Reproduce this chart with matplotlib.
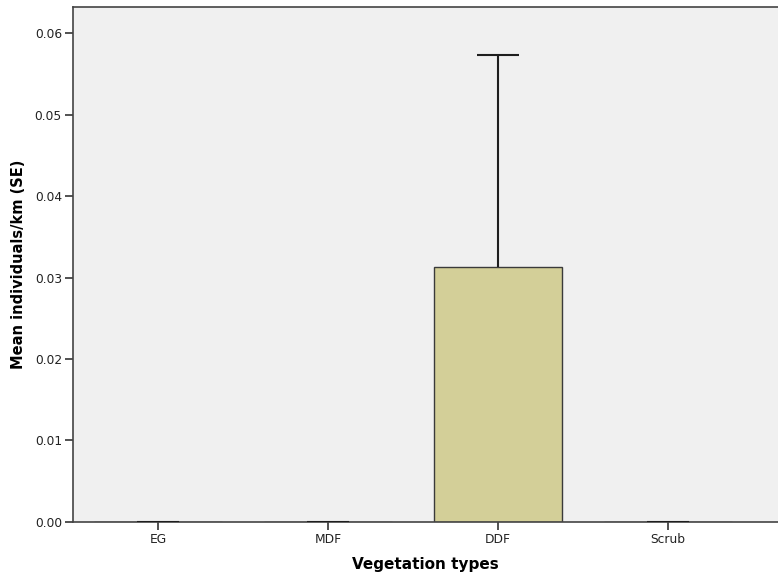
import matplotlib
matplotlib.use("Agg")
import matplotlib.pyplot as plt
import numpy as np

# Mean individuals per km by vegetation type, with standard errors
categories = ["EG", "MDF", "DDF", "Scrub"]
means = [0.0, 0.0, 0.0313, 0.0]
se = [0.0, 0.0, 0.0260, 0.0]
y_ticks = [0.00, 0.01, 0.02, 0.03, 0.04, 0.05, 0.06]

fig = plt.figure(figsize=(7.78, 5.80), dpi=100)
ax = fig.add_axes([73 / 778, 58.3 / 580, 705 / 778, 514.4 / 580])
ax.set_facecolor("#F0F0F0")

x = np.arange(len(categories))
m = np.array(means)
e = np.array(se)
ax.bar(x, m, width=0.75, color="#D3CF98", edgecolor="#3A3A3A",
       linewidth=1.0, zorder=2)

# one-sided (upper) error bars with a cap at the top only
cap_half = 0.126
ax.vlines(x, m, m + e, color="#1E1E1E", linewidth=1.5, zorder=3)
ax.hlines(m + e, x - cap_half, x + cap_half, color="#1E1E1E",
          linewidth=1.5, zorder=3)

ax.set_xlim(-0.5, 3.647)
ax.set_ylim(0, 0.0632)
ax.set_xticks(x)
ax.set_xticklabels(categories)
ax.set_yticks(y_ticks)
ax.set_yticklabels([f"{v:.2f}" for v in y_ticks])

for side in ("left", "top", "bottom"):
    ax.spines[side].set_color("#444444")
    ax.spines[side].set_linewidth(1.2)
ax.spines["right"].set_visible(False)

ax.tick_params(axis="both", direction="out", length=6, width=1.2,
               color="#333333", labelsize=8.8, labelcolor="#222222", pad=2)

ax.set_xlabel("Vegetation types", fontsize=11, fontweight="bold", labelpad=8)
ax.set_ylabel("Mean individuals/km (SE)", fontsize=10.5, fontweight="bold",
              labelpad=6)

fig.savefig("out.png", dpi=100)
